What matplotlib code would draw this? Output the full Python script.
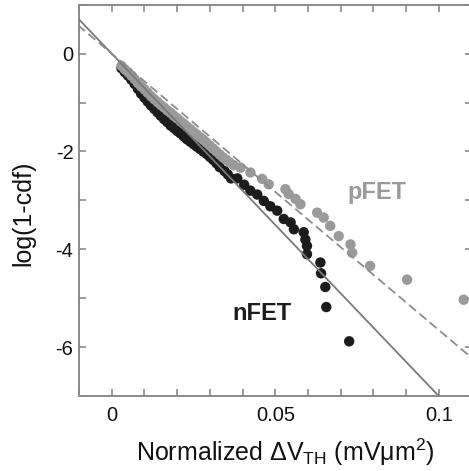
import matplotlib

matplotlib.use("Agg")

import matplotlib.pyplot as plt
import numpy as np

plt.rcParams["font.family"] = ["Liberation Sans", "DejaVu Sans"]
plt.rcParams["mathtext.fontset"] = "custom"
plt.rcParams["mathtext.rm"] = "Liberation Sans"
plt.rcParams["mathtext.it"] = "Liberation Sans:italic"
plt.rcParams["mathtext.bf"] = "Liberation Sans:bold"

# nFET samples (normalized dVth, log(1-cdf))
nfet_x = [0.0030, 0.0040, 0.0050, 0.0060, 0.0070, 0.0080, 0.0090, 0.0100, 0.0110,
          0.0120, 0.0130, 0.0140, 0.0150, 0.0160, 0.0170, 0.0180, 0.0190, 0.0200,
          0.0210, 0.0220, 0.0230, 0.0240, 0.0250, 0.0260, 0.0270, 0.0280, 0.0290,
          0.0300, 0.0310, 0.0320, 0.0330, 0.0345, 0.0355, 0.0365, 0.0384, 0.0405,
          0.0424, 0.0445, 0.0465, 0.0485, 0.0506, 0.0526, 0.0547, 0.0557, 0.0587,
          0.0592, 0.0597, 0.0597, 0.0638, 0.0640, 0.0653, 0.0656, 0.0726]
nfet_y = [-0.30, -0.38, -0.45, -0.53, -0.62, -0.72, -0.82, -0.90, -0.98,
          -1.06, -1.13, -1.20, -1.27, -1.34, -1.40, -1.47, -1.52, -1.58,
          -1.63, -1.69, -1.75, -1.80, -1.85, -1.90, -1.95, -2.00, -2.05,
          -2.11, -2.17, -2.24, -2.32, -2.40, -2.47, -2.55, -2.55, -2.68,
          -2.80, -2.88, -3.01, -3.12, -3.21, -3.38, -3.45, -3.59, -3.65,
          -3.80, -3.93, -4.10, -4.27, -4.49, -4.77, -5.18, -5.88]

# pFET samples
pfet_x = [0.0030, 0.0040, 0.0050, 0.0060, 0.0070, 0.0080, 0.0090, 0.0100, 0.0110,
          0.0120, 0.0130, 0.0140, 0.0150, 0.0160, 0.0170, 0.0180, 0.0190, 0.0200,
          0.0210, 0.0220, 0.0230, 0.0240, 0.0250, 0.0260, 0.0270, 0.0280, 0.0290,
          0.0300, 0.0310, 0.0320, 0.0330, 0.0340, 0.0350, 0.0360, 0.0373, 0.0394,
          0.0424, 0.0460, 0.0480, 0.0531, 0.0541, 0.0562, 0.0577, 0.0628, 0.0648,
          0.0668, 0.0694, 0.0730, 0.0735, 0.0790, 0.0903, 0.1076]
pfet_y = [-0.25, -0.32, -0.38, -0.45, -0.52, -0.60, -0.67, -0.73, -0.80,
          -0.87, -0.93, -0.99, -1.05, -1.10, -1.16, -1.21, -1.27, -1.32,
          -1.38, -1.43, -1.49, -1.54, -1.60, -1.65, -1.71, -1.76, -1.82,
          -1.88, -1.94, -2.00, -2.06, -2.12, -2.17, -2.22, -2.28, -2.33,
          -2.43, -2.56, -2.67, -2.77, -2.87, -2.97, -3.08, -3.25, -3.35,
          -3.52, -3.73, -3.90, -4.07, -4.34, -4.62, -5.03]

# fitted exponential tails: log(1-cdf) = slope * x + offset
nfet_slope, nfet_offset = -70.0, 0.0
pfet_slope, pfet_offset = -56.5, 0.0

fig = plt.figure(figsize=(4.69, 4.71), dpi=100)
ax = fig.add_axes([0.1684, 0.159, 0.837, 0.831])

axis_gray = "#8a8a8a"
ax.scatter(nfet_x, nfet_y, s=56, color="#1c1c1c", edgecolors="none", zorder=2)
ax.scatter(pfet_x, pfet_y, s=56, color="#9a9a9a", edgecolors="none", zorder=3)

fit_x = np.array([-0.02, 0.13])
ax.plot(fit_x, nfet_slope * fit_x + nfet_offset, color="#7a7a7a", lw=1.3, zorder=4)
ax.plot(fit_x, pfet_slope * fit_x + pfet_offset, color="#8c8c8c", lw=1.3,
        linestyle=(0, (5, 2.5)), zorder=4)

ax.text(0.0812, -2.83, "pFET", color="#9a9a9a", fontsize=17, fontweight="bold",
        ha="center", va="center")
ax.text(0.046, -5.32, "nFET", color="#1c1c1c", fontsize=17, fontweight="bold",
        ha="center", va="center")

ax.set_xlim(-0.01, 0.11)
ax.set_ylim(-7, 1)
ax.set_xticks([0, 0.05, 0.1])
ax.set_xticklabels(["0", "0.05", "0.1"])
ax.set_xticks(np.arange(-0.01, 0.111, 0.01), minor=True)
ax.set_yticks([0, -2, -4, -6])
ax.set_yticklabels(["0", "-2", "-4", "-6"])
ax.set_yticks(np.arange(-7, 1.01, 1), minor=True)

ax.tick_params(which="both", direction="in", top=True, right=True, length=5,
               width=1.2, color=axis_gray, labelsize=14.5, labelcolor="#111111")
ax.tick_params(axis="x", pad=7)
ax.tick_params(axis="y", pad=4)
for spine in ax.spines.values():
    spine.set_color(axis_gray)
    spine.set_linewidth(1.4)

ax.set_xlabel(r"Normalized $\Delta$V$_\mathrm{TH}$ (mVμm$^2$)", fontsize=18,
              color="#111111")
ax.set_ylabel("log(1-cdf)", fontsize=18, color="#111111")
ax.xaxis.set_label_coords(0.525, -0.103)
ax.yaxis.set_label_coords(-0.11, 0.468)

fig.savefig("out.png", dpi=100)
